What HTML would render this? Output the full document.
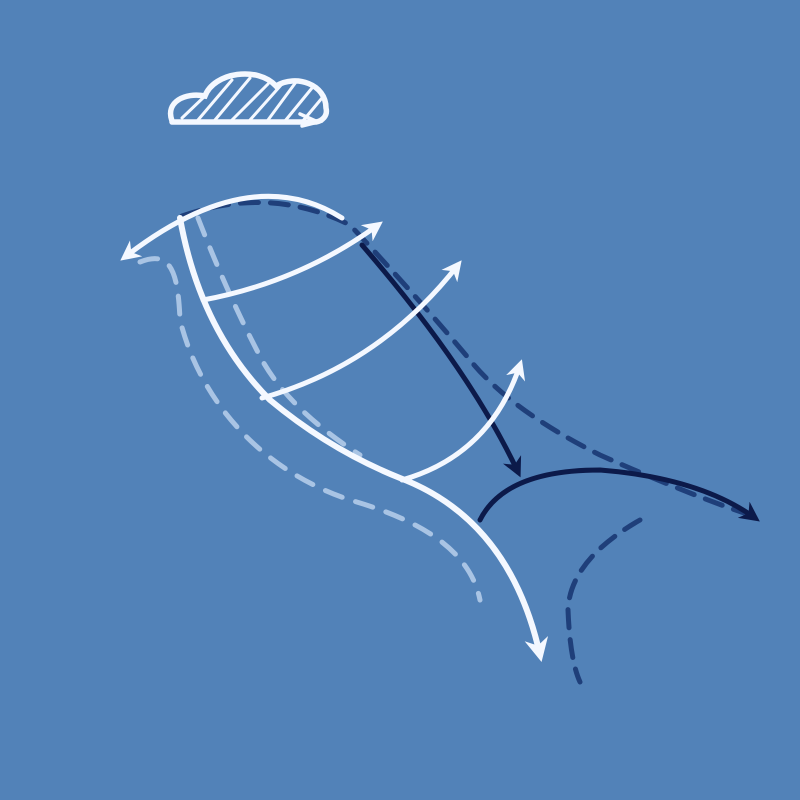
<!DOCTYPE html>
<html><head><meta charset="utf-8"><style>html,body{margin:0;padding:0;background:#5282b8}svg{display:block}</style></head>
<body>
<svg width="800" height="800" viewBox="0 0 800 800">
<defs>
<marker id="aw" viewBox="0 0 10 10" refX="7" refY="5" markerWidth="4" markerHeight="4" orient="auto-start-reverse"><path d="M0,0 L10,5 L0,10 L3,5 Z" fill="#f4f8ff"/></marker>
<marker id="ad" viewBox="0 0 10 10" refX="7" refY="5" markerWidth="4" markerHeight="4" orient="auto"><path d="M0,0 L10,5 L0,10 L3,5 Z" fill="#0c1a4a"/></marker>
</defs>
<rect width="800" height="800" fill="#5282b8"/>
<g stroke="#f4f8ff" fill="none" stroke-linecap="round">
<path d="M172,121 C165,102 185,92 205,96 C214,72 258,66 276,86 C296,74 326,84 326,108 C328,116 322,121 316,122 L172,122" stroke-width="5.5"/>
<path d="M182,118 L205,96 M198,120 L232,80 M215,120 L250,78 M232,120 L268,84 M250,120 L282,84 M268,120 L296,82 M285,121 L312,88 M302,122 L322,98" stroke-width="3"/>
<path d="M300,114 L318,122 L302,126" stroke-width="3.5"/>
</g>
<g fill="none" stroke-linecap="round">
<path d="M140,262 C170,250 178,270 180,320 C200,400 260,470 350,500 C420,520 470,550 480,600" stroke="#a9c4e4" stroke-width="5" stroke-dasharray="18,14"/>
<path d="M198,218 Q230,300 262,360 Q290,410 360,455" stroke="#a9c4e4" stroke-width="5" stroke-dasharray="18,14"/>
<path d="M182,216 Q270,185 350,225 Q420,300 470,360 Q510,410 600,455 Q690,495 750,515" stroke="#1f3f7a" stroke-width="5" stroke-dasharray="18,12"/>
<path d="M640,520 Q570,560 568,610 Q570,660 580,682" stroke="#1f3f7a" stroke-width="5" stroke-dasharray="18,12"/>
<path d="M362,245 Q470,370 518,472" stroke="#0c1a4a" stroke-width="5" marker-end="url(#ad)"/>
<path d="M480,520 Q505,470 600,470 Q700,478 755,518" stroke="#0c1a4a" stroke-width="5" marker-end="url(#ad)"/>
<path d="M342,218 Q250,160 125,257" stroke="#f4f8ff" stroke-width="5" marker-end="url(#aw)"/>
<path d="M180,218 Q200,330 270,400 Q330,450 400,478 Q510,520 540,655" stroke="#f4f8ff" stroke-width="6" marker-end="url(#aw)"/>
<path d="M203,300 Q300,282 378,225" stroke="#f4f8ff" stroke-width="5" marker-end="url(#aw)"/>
<path d="M262,398 Q380,365 458,265" stroke="#f4f8ff" stroke-width="5" marker-end="url(#aw)"/>
<path d="M402,480 Q490,455 520,365" stroke="#f4f8ff" stroke-width="5" marker-end="url(#aw)"/>
</g>
</svg>
</body></html>
